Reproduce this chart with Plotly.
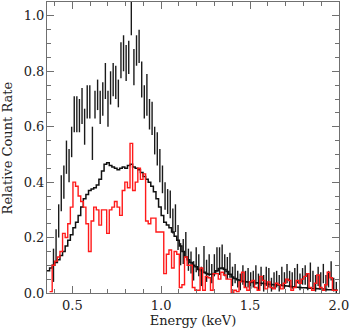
import numpy as np
import plotly.graph_objects as go

# channel grid in keV (14.6 eV channels)
chan_width = 0.0146
chan_first = 0.3648
n_chan = 112

# model, black step line (one value per channel)
model = [0.08, 0.09, 0.10, 0.11, 0.12, 0.135, 0.15, 0.17, 0.19, 0.21,
         0.235, 0.255, 0.28, 0.31, 0.34, 0.355, 0.37, 0.375, 0.38, 0.39,
         0.41, 0.44, 0.465, 0.47, 0.46, 0.455, 0.45, 0.445, 0.45, 0.455,
         0.45, 0.46, 0.465, 0.455, 0.45, 0.445, 0.435, 0.42, 0.41, 0.40,
         0.385, 0.365, 0.34, 0.31, 0.28, 0.255, 0.245, 0.235, 0.22, 0.205,
         0.19, 0.17, 0.15, 0.13, 0.12, 0.11, 0.10, 0.095, 0.085, 0.08,
         0.075, 0.07, 0.068, 0.068, 0.07, 0.08, 0.088, 0.09, 0.085, 0.078,
         0.068, 0.058, 0.052, 0.048, 0.044, 0.042, 0.041, 0.04, 0.039, 0.038,
         0.037, 0.036, 0.035, 0.034, 0.033, 0.032, 0.031, 0.03, 0.029, 0.028,
         0.027, 0.026, 0.025, 0.024, 0.023, 0.022, 0.021, 0.02, 0.019, 0.019,
         0.018, 0.017, 0.016, 0.016, 0.015, 0.014, 0.014, 0.013, 0.012, 0.012,
         0.011, 0.011]

# red spectrum, starts at channel 1
red_rate = [0.005, 0.10, 0.115, 0.13, 0.15, 0.215, 0.20, 0.25, 0.31,
            0.40, 0.385, 0.35, 0.33, 0.31, 0.25, 0.15, 0.26, 0.31, 0.30,
            0.245, 0.30, 0.30, 0.215, 0.30, 0.31, 0.33, 0.31, 0.28, 0.37,
            0.40, 0.38, 0.54, 0.37, 0.40, 0.45, 0.41, 0.43, 0.26, 0.25,
            0.27, 0.27, 0.22, 0.22, 0.22, 0.07, 0.14, 0.155, 0.09, 0.15,
            0.14, 0.02, 0.03, 0.13, 0.10, 0.10, 0.02, 0.01, 0.01, 0.09,
            0.01, 0.06, 0.055, 0.01, 0.07, 0.07, 0.05, 0.075, 0.065, 0.05,
            0.05, 0.0, 0.01, 0.005, 0.04, 0.075, 0.02, 0.01, 0.04, 0.045,
            0.02, 0.01, 0.06, 0.045, 0.015, 0.04, 0.02, 0.015, 0.035, 0.03,
            0.015, 0.035, 0.05, 0.045, 0.01, 0.02, 0.045, 0.035, 0.05, 0.06,
            0.07, 0.02, 0.01, 0.035, 0.065, 0.02, 0.01, 0.03, 0.075, 0.055,
            0.01, 0.01]

# black data points with errors, start at channel 2
data_rate = [0.10, 0.17, 0.26, 0.36, 0.40, 0.49, 0.46, 0.545,
             0.645, 0.645, 0.64, 0.675, 0.60, 0.69, 0.69, 0.54, 0.68, 0.715,
             0.67, 0.70, 0.765, 0.665, 0.74, 0.77, 0.76, 0.72, 0.84, 0.865,
             0.83, 0.85, 1.0, 0.815, 0.875, 0.89, 0.77, 0.69, 0.715, 0.645,
             0.63, 0.55, 0.52, 0.46, 0.41, 0.35, 0.33, 0.32, 0.26, 0.27,
             0.20, 0.14, 0.15, 0.175, 0.12, 0.11, 0.08, 0.12, 0.10, 0.06,
             0.12, 0.08, 0.10, 0.07, 0.10, 0.12, 0.115, 0.13, 0.10, 0.09,
             0.10, 0.06, 0.07, 0.05, 0.04, 0.065, 0.05, 0.055, 0.045, 0.05,
             0.065, 0.04, 0.06, 0.035, 0.06, 0.055, 0.03, 0.045, 0.05, 0.035,
             0.06, 0.045, 0.07, 0.05, 0.045, 0.055, 0.07, 0.04, 0.06, 0.065,
             0.04, 0.075, 0.05, 0.035, 0.06, 0.045, 0.07, 0.035, 0.05, 0.08,
             0.03, 0.02]
data_err = [0.06, 0.06, 0.06, 0.065, 0.06, 0.06, 0.06, 0.055,
            0.065, 0.065, 0.06, 0.065, 0.065, 0.06, 0.06, 0.06, 0.05, 0.055,
            0.06, 0.06, 0.065, 0.065, 0.06, 0.06, 0.06, 0.05, 0.065, 0.065,
            0.065, 0.06, 0.07, 0.065, 0.055, 0.06, 0.065, 0.06, 0.075, 0.055,
            0.06, 0.05, 0.06, 0.06, 0.05, 0.05, 0.045, 0.05, 0.045, 0.05,
            0.045, 0.04, 0.045, 0.045, 0.04, 0.04, 0.035, 0.045, 0.04, 0.035,
            0.05, 0.04, 0.04, 0.035, 0.04, 0.045, 0.05, 0.045, 0.04, 0.04,
            0.045, 0.035, 0.035, 0.03, 0.03, 0.035, 0.03, 0.035, 0.03, 0.03,
            0.035, 0.03, 0.035, 0.03, 0.035, 0.035, 0.025, 0.03, 0.03, 0.03,
            0.035, 0.03, 0.035, 0.03, 0.03, 0.035, 0.035, 0.03, 0.03, 0.035,
            0.03, 0.035, 0.03, 0.03, 0.035, 0.03, 0.035, 0.03, 0.03, 0.035,
            0.025, 0.02]

centers = chan_first + chan_width * np.arange(n_chan)
edges = np.append(centers - chan_width / 2, centers[-1] + chan_width / 2)


def steps(vals, start):
    """bin values -> hv step line over the bin edges"""
    xs = edges[start:]
    ys = list(vals) + [vals[-1]]
    return xs, ys


FONT = "DejaVu Serif"
AX = "#707070"

fig = go.Figure()
fig.add_trace(go.Scatter(
    x=centers[2:], y=data_rate, mode="markers",
    marker=dict(size=1, color="rgba(0,0,0,0)"),
    error_y=dict(type="data", array=data_err, thickness=1.4, width=0, color="#1a1a1a"),
))
mx, my = steps(model, 0)
fig.add_trace(go.Scatter(x=mx, y=my, mode="lines", line_shape="hv",
                         line=dict(color="#111111", width=1.5)))
rx, ry = steps(red_rate, 1)
fig.add_trace(go.Scatter(x=rx, y=ry, mode="lines", line_shape="hv",
                         line=dict(color="#ff1a1a", width=1.4)))

axis_common = dict(
    showline=True, linecolor=AX, linewidth=1, mirror="allticks",
    ticks="inside", tickcolor=AX, ticklen=7, tickwidth=1,
    showgrid=False, zeroline=False,
    tickfont=dict(family=FONT, size=13, color="#222"),
)
fig.update_xaxes(
    range=[0.3575, 2.0005], tickvals=[0.5, 1.0, 1.5, 2.0], ticktext=["0.5", "1.0", "1.5", "2.0"],
    minor=dict(dtick=0.1, tick0=0, ticks="inside", ticklen=4, tickcolor=AX),
    ticklabelstandoff=0, ticklabeloverflow="allow",
    title=dict(text="Energy (keV)", font=dict(family=FONT, size=13, color="#222"), standoff=3),
    **axis_common,
)
fig.update_yaxes(
    range=[0, 1.05], tickvals=[0.0, 0.2, 0.4, 0.6, 0.8, 1.0], tickformat=".1f",
    minor=dict(dtick=0.05, tick0=0, ticks="inside", ticklen=4, tickcolor=AX),
    ticklabelstandoff=-1,
    **axis_common,
)
# y title as a rotated label placed at the far left, as in the original
fig.add_annotation(text="Relative Count Rate", textangle=-90, showarrow=False,
                   xref="paper", yref="paper", x=-0.163, y=0.5,
                   xanchor="left", yanchor="middle", borderpad=0,
                   font=dict(family=FONT, size=13, color="#222"))
fig.update_layout(
    width=350, height=331, showlegend=False,
    margin=dict(l=47, r=9, t=1, b=38),
    plot_bgcolor="white", paper_bgcolor="white",
)
# page has a default 8px body margin, drop it so the figure sits at the corner
fig.write_html("out.html", config={"displayModeBar": False},
               post_script="document.body.style.margin='0';")
